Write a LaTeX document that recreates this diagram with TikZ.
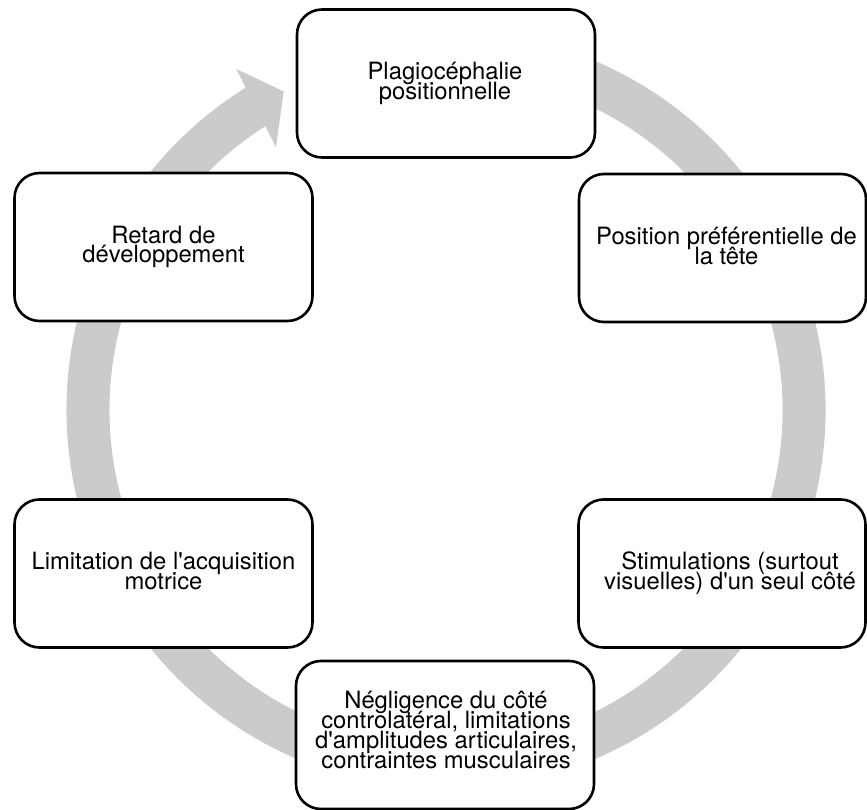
\documentclass[tikz,border=0pt]{standalone}
\usepackage{fontspec}
\setmainfont{TeX Gyre Heros}
\definecolor{ringgray}{RGB}{203,203,203}
\begin{document}
\begin{tikzpicture}[x=1pt,y=1pt,
  stage/.style={draw=black, line width=2.6pt, fill=white, rounded corners=25pt,
    minimum width=298pt, minimum height=148pt, inner sep=0pt},
  narrow/.style={minimum width=287pt},
  caption/.style={align=center, inner sep=0pt,
    font={\fontsize{23.8}{19.8}\selectfont\lineskiplimit=-60pt}},
  cyclering/.style={draw=ringgray, line width=43pt},
  cyclehead/.style={fill=ringgray}]
\useasboundingbox (0,0) rectangle (867,809);

% circular arrow behind the stages
\coordinate (c) at (446,399);
\draw[cyclering] ([shift={(105:358)}]c) arc[start angle=105, end angle=-238.4, radius=358];
\fill[cyclehead] ([shift={(121.6:400.5)}]c) -- ([shift={(117:357.5)}]c)
  -- ([shift={(122.9:313)}]c) -- cycle;

% stages
\node[stage] (b1) at (446,725.5) {};
\node[stage,narrow] (b2) at (722.5,561) {};
\node[stage,narrow] (b3) at (722,235.5) {};
\node[stage] (b4) at (445,74) {};
\node[stage] (b5) at (163.5,235.5) {};
\node[stage] (b6) at (163.5,562) {};

% labels
\node[caption] (t1) at ([xshift=-1pt]b1.center) {Plagiocéphalie\\positionnelle};
\node[caption] (t2) at ([xshift=4pt,yshift=2pt]b2.center) {Position préférentielle de\\la tête};
\node[caption] (t3) at ([xshift=8pt]b3.center) {Stimulations (surtout\\visuelles) d\textquotesingle un seul côté};
\node[caption] (t4) at ([xshift=1pt,yshift=5pt]b4.center) {Négligence du côté\\controlatéral, limitations\\d\textquotesingle amplitudes articulaires,\\contraintes musculaires};
\node[caption] (t5) at ([yshift=2.5pt]b5.center) {Limitation de l\textquotesingle acquisition\\motrice};
\node[caption] (t6) at (b6.center) {Retard de\\développement};
\end{tikzpicture}
\end{document}
